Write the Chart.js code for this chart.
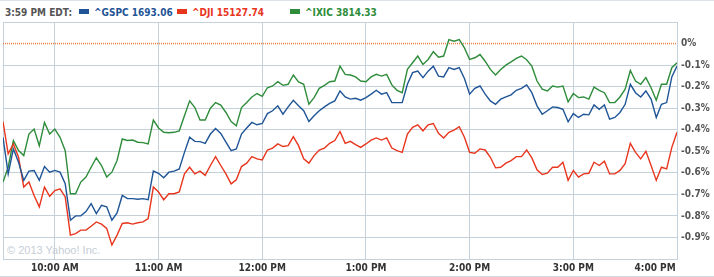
<!DOCTYPE html>
<html>
<head>
<meta charset="utf-8">
<script src="https://cdn.jsdelivr.net/npm/chart.js@4.4.1/dist/chart.umd.min.js"></script>
<style>
  body { margin: 0; background: #fff; }
  #wrap { position: relative; width: 714px; height: 277px; overflow: hidden; }
  #wrap canvas { position: absolute; left: 0; top: 0; }
  .lg { position: absolute; top: 6px; font: bold 10px 'DejaVu Sans Condensed', 'DejaVu Sans', sans-serif; white-space: nowrap; line-height: 14px; }
  .sw { display: inline-block; width: 10px; height: 5px; margin-right: 5px; vertical-align: 2px; }
  #wm { position: absolute; left: 7px; top: 244px; font: 11px 'Liberation Sans', Arial, sans-serif; color: #c6ced6; }
  #topline { position: absolute; left: 0; top: 0; width: 714px; border-top: 1px solid #dde3e8; }
  #botline { position: absolute; left: 0; top: 276px; width: 714px; border-top: 1px solid #d3dbe2; }
</style>
</head>
<body>
<div id="wrap">
  <div id="topline"></div>
  <div id="botline"></div>
  <div class="lg" style="left:5px;color:#555;">3:59 PM EDT:</div>
  <div class="lg" style="left:79px;color:#1f5596;"><span class="sw" style="background:#1f5596"></span>^GSPC 1693.06</div>
  <div class="lg" style="left:177px;color:#e8361e;"><span class="sw" style="background:#e8361e"></span>^DJI 15127.74</div>
  <div class="lg" style="left:290px;color:#2e8c3a;"><span class="sw" style="background:#2e8c3a"></span>^IXIC 3814.33</div>
  <div id="wm">© 2013 Yahoo! Inc.</div>
  <canvas id="myChart" width="714" height="277"></canvas>
</div>
<script>
// minutes after 9:30 AM
const minutes = [0, 3, 6, 9, 12, 15, 18, 21, 24, 27, 30, 33, 36, 39, 42, 45, 48, 51, 54, 57,
  60, 63, 66, 69, 72, 75, 78, 81, 84, 87, 90, 93, 96, 99, 102, 105, 108, 111, 114, 117,
  120, 123, 126, 129, 132, 135, 138, 141, 144, 147, 150, 153, 156, 159, 162, 165, 168, 171, 174, 177,
  180, 183, 186, 189, 192, 195, 198, 201, 204, 207, 210, 213, 216, 219, 222, 225, 228, 231, 234, 237,
  240, 243, 246, 249, 252, 255, 258, 261, 264, 267, 270, 273, 276, 279, 282, 285, 288, 291, 294, 297,
  300, 303, 306, 309, 312, 315, 318, 321, 324, 327, 330, 333, 336, 339, 342, 345, 348, 351, 354, 357,
  360, 363, 366, 369, 372, 375, 378, 381, 384, 387, 390];

// % change vs previous close
const gspc = [-0.435, -0.605, -0.489, -0.551, -0.635, -0.592, -0.589, -0.635, -0.571, -0.597,
  -0.589, -0.597, -0.651, -0.82, -0.80, -0.80, -0.78, -0.743, -0.789, -0.751,
  -0.758, -0.82, -0.786, -0.705, -0.72, -0.72, -0.723, -0.72, -0.725, -0.592,
  -0.602, -0.623, -0.597, -0.592, -0.582, -0.505, -0.435, -0.454, -0.455, -0.463,
  -0.42, -0.394, -0.417, -0.458, -0.497, -0.489, -0.42, -0.392, -0.366, -0.377,
  -0.371, -0.325, -0.312, -0.289, -0.328, -0.294, -0.263, -0.289, -0.312, -0.362,
  -0.335, -0.312, -0.294, -0.278, -0.266, -0.22, -0.248, -0.258, -0.254, -0.263,
  -0.251, -0.235, -0.217, -0.235, -0.228, -0.274, -0.274, -0.274, -0.189, -0.135,
  -0.128, -0.158, -0.128, -0.105, -0.151, -0.155, -0.112, -0.12, -0.112, -0.162,
  -0.235, -0.208, -0.197, -0.235, -0.266, -0.282, -0.258, -0.248, -0.238, -0.217,
  -0.208, -0.192, -0.228, -0.289, -0.328, -0.312, -0.294, -0.297, -0.305, -0.363,
  -0.325, -0.343, -0.328, -0.331, -0.285, -0.305, -0.285, -0.351, -0.343, -0.32,
  -0.282, -0.189, -0.228, -0.248, -0.22, -0.258, -0.343, -0.282, -0.274, -0.155, -0.105];

const dji = [-0.362, -0.512, -0.466, -0.528, -0.666, -0.643, -0.705, -0.758, -0.666, -0.709,
  -0.682, -0.674, -0.712, -0.889, -0.882, -0.866, -0.866, -0.848, -0.828, -0.838,
  -0.858, -0.935, -0.889, -0.835, -0.832, -0.838, -0.832, -0.828, -0.812, -0.666,
  -0.689, -0.725, -0.697, -0.697, -0.689, -0.605, -0.574, -0.605, -0.592, -0.612,
  -0.566, -0.525, -0.566, -0.605, -0.651, -0.632, -0.571, -0.555, -0.525, -0.535,
  -0.54, -0.494, -0.485, -0.466, -0.478, -0.474, -0.432, -0.474, -0.535, -0.555,
  -0.52, -0.494, -0.485, -0.463, -0.45, -0.408, -0.463, -0.454, -0.469, -0.482,
  -0.466, -0.448, -0.438, -0.448, -0.438, -0.485, -0.497, -0.505, -0.42, -0.389,
  -0.377, -0.405, -0.377, -0.371, -0.417, -0.438, -0.412, -0.402, -0.386, -0.435,
  -0.505, -0.509, -0.489, -0.494, -0.528, -0.577, -0.574, -0.555, -0.543, -0.525,
  -0.525, -0.494, -0.531, -0.586, -0.608, -0.602, -0.574, -0.574, -0.551, -0.635,
  -0.589, -0.62, -0.605, -0.602, -0.551, -0.566, -0.546, -0.605, -0.605, -0.589,
  -0.558, -0.463, -0.505, -0.535, -0.50, -0.566, -0.635, -0.574, -0.582, -0.482, -0.412];

const ixic = [-0.643, -0.574, -0.451, -0.497, -0.52, -0.42, -0.397, -0.474, -0.366, -0.42,
  -0.397, -0.435, -0.497, -0.697, -0.697, -0.643, -0.62, -0.574, -0.53, -0.566,
  -0.62, -0.597, -0.543, -0.443, -0.45, -0.448, -0.458, -0.46, -0.466, -0.355,
  -0.392, -0.412, -0.414, -0.412, -0.405, -0.335, -0.266, -0.297, -0.355, -0.355,
  -0.30, -0.274, -0.286, -0.32, -0.362, -0.382, -0.297, -0.274, -0.248, -0.232,
  -0.245, -0.205, -0.197, -0.177, -0.194, -0.189, -0.146, -0.178, -0.189, -0.282,
  -0.251, -0.208, -0.194, -0.177, -0.174, -0.105, -0.143, -0.146, -0.155, -0.174,
  -0.177, -0.155, -0.143, -0.151, -0.143, -0.192, -0.217, -0.228, -0.12, -0.089,
  -0.058, -0.097, -0.074, -0.038, -0.063, -0.058, 0.018, 0.011, 0.018, -0.02,
  -0.074, -0.066, -0.051, -0.082, -0.12, -0.146, -0.12, -0.10, -0.085, -0.069,
  -0.058, -0.075, -0.105, -0.174, -0.212, -0.22, -0.197, -0.202, -0.197, -0.271,
  -0.232, -0.251, -0.248, -0.258, -0.202, -0.217, -0.228, -0.274, -0.274, -0.248,
  -0.212, -0.125, -0.174, -0.189, -0.158, -0.205, -0.263, -0.189, -0.189, -0.112, -0.089];

const tickMinutes = [0, 30, 90, 150, 210, 270, 330, 390];
const tickLabels = ['', '10:00 AM', '11:00 AM', '12:00 PM', '1:00 PM', '2:00 PM', '3:00 PM', '4:00 PM'];
const prevClose = [0, 0];

const pts = vals => vals.map((v, i) => ({ x: minutes[i], y: v }));

const ctx = document.getElementById('myChart').getContext('2d');
const myChart = new Chart(ctx, {
    type: 'line',
    data: {
        datasets: [{
            label: '^GSPC',
            data: pts(gspc),
            borderColor: '#1f5596',
            borderWidth: 1.4,
            pointRadius: 0,
        }, {
            label: '^DJI',
            data: pts(dji),
            borderColor: '#e8361e',
            borderWidth: 1.4,
            pointRadius: 0,
        }, {
            label: '^IXIC',
            data: pts(ixic),
            borderColor: '#2e8c3a',
            borderWidth: 1.4,
            pointRadius: 0,
        }, {
            label: 'prev close',
            data: [{ x: 0, y: prevClose[0] }, { x: 390, y: prevClose[1] }],
            borderColor: '#f0804a',
            borderWidth: 1.5,
            borderDash: [1, 1],
            pointRadius: 0,
        }]
    },
    options: {
        responsive: false,
        animation: false,
        layout: { padding: { top: 22, left: 3, right: 0, bottom: 0 } },
        plugins: { legend: { display: false }, tooltip: { enabled: false } },
        scales: {
            x: {
                type: 'linear',
                min: 0,
                max: 390,
                afterBuildTicks: s => { s.ticks = tickMinutes.map(v => ({ value: v })); },
                afterFit: s => { s.height = 18; s.paddingLeft = 0; s.paddingRight = 0; },
                grid: { color: '#c4d1db', drawTicks: false },
                border: { display: false },
                ticks: {
                    autoSkip: false,
                    maxRotation: 0,
                    padding: 3,
                    color: '#333',
                    font: { family: "'DejaVu Sans Condensed', 'DejaVu Sans'", size: 10, weight: 'bold' },
                    callback: v => {
                        const i = tickMinutes.indexOf(v);
                        if (i < 0) return '';
                        return v === 390 ? tickLabels[i] + '\u2007\u2007\u2007\u2007\u2007\u2007\u2007' : tickLabels[i];
                    }
                }
            },
            y: {
                position: 'right',
                min: -1.0,
                max: 0.1,
                afterFit: s => { s.width = 37; },
                grid: {
                    drawTicks: false,
                    color: c => Math.abs(c.tick.value) < 1e-9 ? 'rgba(0,0,0,0)' : '#c4d1db'
                },
                border: { display: true, color: '#c4d1db' },
                ticks: {
                    stepSize: 0.1,
                    padding: 4,
                    color: '#555',
                    font: { family: "'DejaVu Sans Condensed', 'DejaVu Sans'", size: 10, weight: 'bold' },
                    callback: v => {
                        if (v > 0.05 || v < -0.95) return '';
                        if (Math.abs(v) < 1e-9) return '0%';
                        return v.toFixed(1) + '%';
                    }
                }
            }
        }
    }
});
</script>
</body>
</html>
